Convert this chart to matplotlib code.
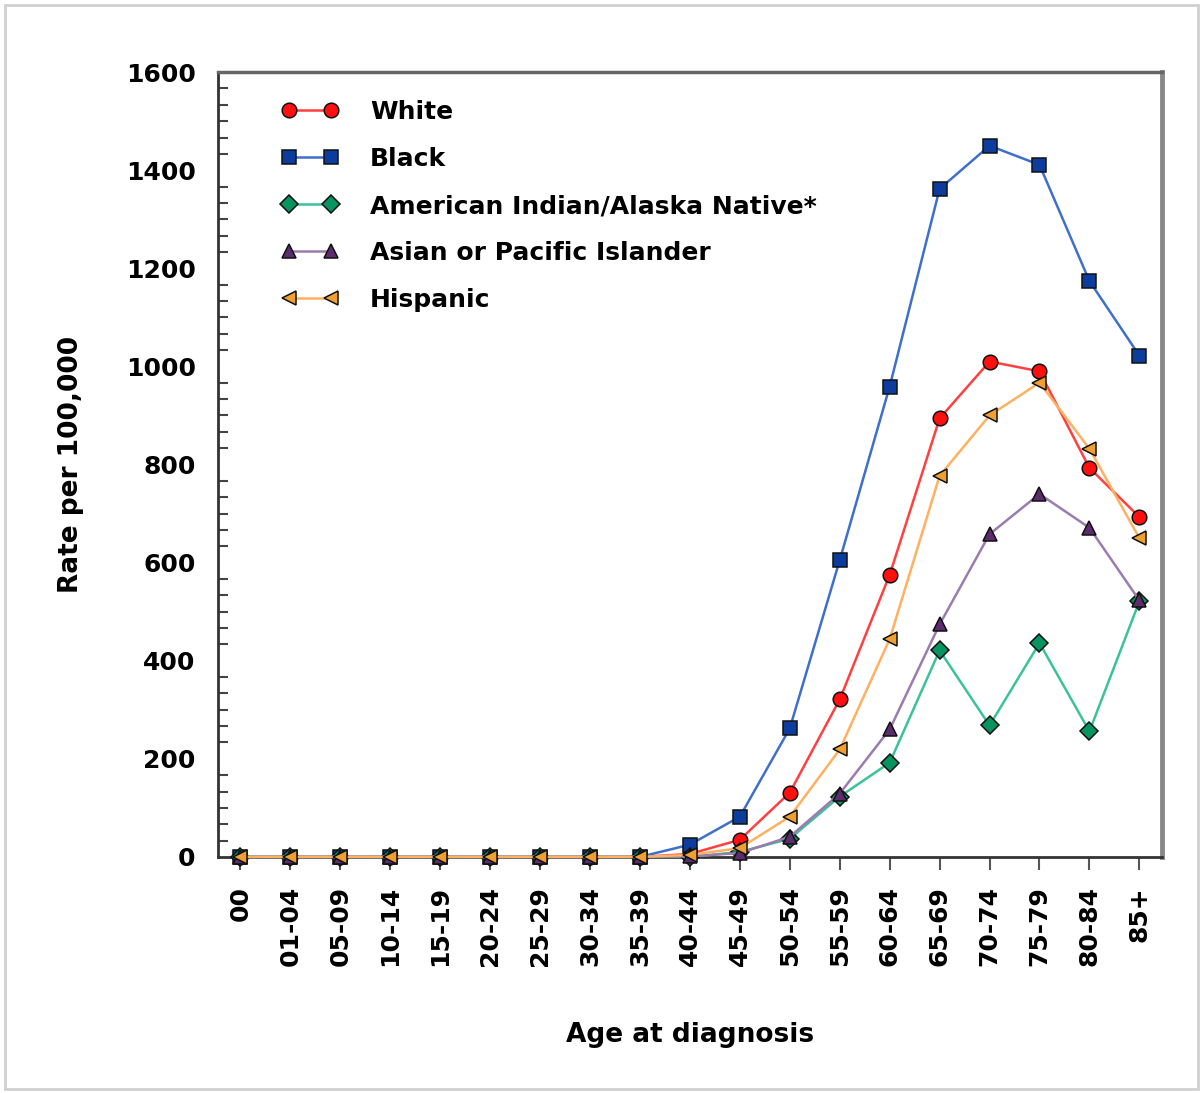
import numpy as np
import matplotlib
matplotlib.use("Agg")
import matplotlib.pyplot as plt
from matplotlib.patches import Rectangle
from matplotlib.ticker import FixedLocator

ages = ["00", "01-04", "05-09", "10-14", "15-19", "20-24", "25-29", "30-34", "35-39",
        "40-44", "45-49", "50-54", "55-59", "60-64", "65-69", "70-74", "75-79", "80-84", "85+"]

white    = [0, 0, 0, 0, 0, 0, 0, 0, 0, 6, 35, 131, 321, 575, 894, 1010, 990, 793, 693]
black    = [0, 0, 0, 0, 0, 0, 0, 0, 0, 25, 82, 262, 605, 959, 1362, 1450, 1411, 1174, 1022]
aian     = [0, 0, 0, 0, 0, 0, 0, 0, 0, 0, 10, 37, 123, 192, 421, 268, 436, 256, 521]
asian    = [0, 0, 0, 0, 0, 0, 0, 0, 0, 1, 8, 41, 129, 260, 474, 658, 740, 671, 523]
hispanic = [0, 0, 0, 0, 0, 0, 0, 0, 0, 4, 18, 82, 219, 444, 777, 900, 967, 832, 650]

series = [
    ("White", white, "o", "#ff1010", "#ff4040"),
    ("Black", black, "s", "#0b3c9e", "#3f6fcc"),
    ("American Indian/Alaska Native*", aian, "D", "#079460", "#3cc29a"),
    ("Asian or Pacific Islander", asian, "^", "#5b2d6e", "#9a7cae"),
    ("Hispanic", hispanic, "<", "#f0a030", "#ffb060"),
]

plt.rcParams['font.family'] = ['DejaVu Sans']
plt.rcParams['font.weight'] = 'bold'
FS = 18

fig = plt.figure(figsize=(12.04, 10.93), dpi=100)
fig.patches.append(Rectangle((0.004, 0.004), 0.991, 0.991, transform=fig.transFigure,
                             fill=False, edgecolor="#d0d0d0", linewidth=2))
ax = fig.add_axes([0.181, 0.216, 0.784, 0.718])

x = np.arange(len(ages))
msize = {"o": 10.5, "s": 9.5, "D": 9, "^": 10, "<": 10}
for name, vals, mk, mc, lc in series:
    ax.plot(x, vals, color=lc, lw=1.8, marker=mk, markersize=msize[mk],
            markerfacecolor=mc, markeredgecolor="#111111", markeredgewidth=1.1,
            label=name, clip_on=False, zorder=3)

ax.set_xlim(-0.45, len(ages) - 1 + 0.45)
ax.set_ylim(0, 1600)
ax.set_xticks(x)
ax.set_xticklabels(ages, rotation=90, fontsize=FS, fontweight='bold')
ax.set_yticks(np.arange(0, 1601, 200))
ax.set_yticklabels([str(v) for v in range(0, 1601, 200)], fontsize=FS, fontweight='bold')
# small inward ticks every 200/6, none at the labelled values
minor = [v for v in np.arange(0, 1600, 200 / 6) if round(v) % 200 != 0]
ax.yaxis.set_minor_locator(FixedLocator(minor))
ax.tick_params(axis='y', which='major', length=0, pad=16)
ax.tick_params(axis='y', which='minor', direction='in', length=7, width=1.5, color="#444444")
ax.tick_params(axis='x', direction='out', length=9, width=1.5, color="#555555", pad=12)

ax.spines['left'].set_color("#333333")
ax.spines['left'].set_linewidth(2)
ax.spines['bottom'].set_color("#333333")
ax.spines['bottom'].set_linewidth(2)
ax.spines['top'].set_color("#666666")
ax.spines['top'].set_linewidth(2.5)
ax.spines['right'].set_color("#888888")
ax.spines['right'].set_linewidth(3.5)

ax.set_xlabel("Age at diagnosis", fontsize=19, fontweight='bold', labelpad=40)
ax.set_ylabel("Rate per 100,000", fontsize=19, fontweight='bold', labelpad=30)

ax.legend(loc="upper left", bbox_to_anchor=(0.043, 0.993), frameon=False, numpoints=2,
          handlelength=2.3, handletextpad=1.25, labelspacing=0.92,
          prop={'weight': 'bold', 'size': FS})

fig.savefig("out.png", dpi=100)
